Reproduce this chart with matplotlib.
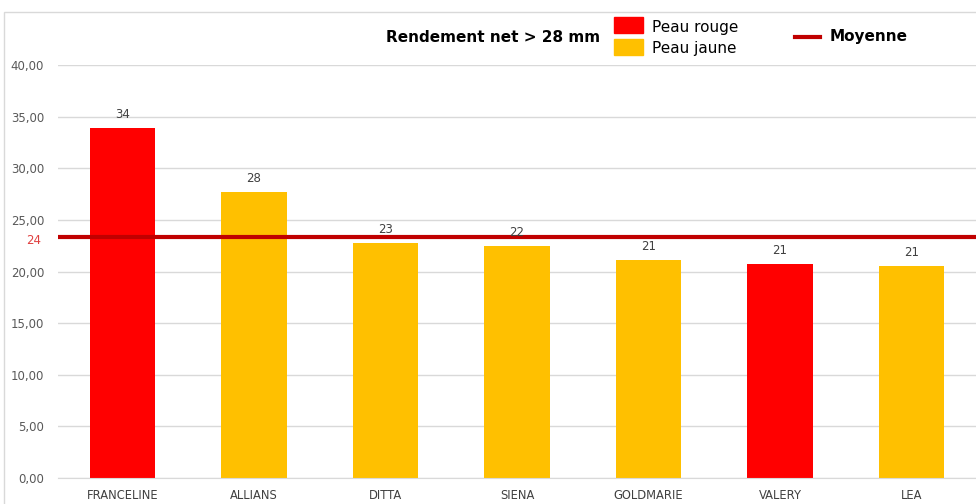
import matplotlib.pyplot as plt
from matplotlib.patches import Rectangle
from matplotlib.lines import Line2D
import numpy as np

# data
varieties = ['FRANCELINE', 'ALLIANS', 'DITTA', 'SIENA', 'GOLDMARIE', 'VALERY', 'LEA']
rendement = [33.9, 27.7, 22.75, 22.45, 21.1, 20.7, 20.55]
peau = ['rouge', 'jaune', 'jaune', 'jaune', 'jaune', 'rouge', 'jaune']
moyenne = 23.3
moyenne_label = '24'
yticks = [0, 5, 10, 15, 20, 25, 30, 35, 40]

colors = {'rouge': '#FF0000', 'jaune': '#FFC000'}
font = 'DejaVu Sans'

fig = plt.figure(figsize=(9.76, 5.04), dpi=100)
ax = fig.add_axes([0.0594, 0.0516, 0.9406, 0.8194])

x = np.arange(len(varieties))
ax.bar(x, rendement, width=0.5, color=[colors[p] for p in peau], zorder=2)
for xi, v in zip(x, rendement):
    ax.text(xi, v + 0.7, '%d' % int(v + 0.5), ha='center', va='bottom',
            fontsize=8.5, color='#404040', family=font, zorder=4)

ax.axhline(moyenne, color='#C00000', linewidth=3, zorder=3)
ax.text(-0.62, moyenne - 0.3, moyenne_label, ha='right', va='center',
        fontsize=8.5, color='#E04040', family=font)

ax.set_xlim(-0.49, 6.49)
ax.set_ylim(0, 40)
ax.set_yticks(yticks)
ax.set_yticklabels(['%d,00' % t for t in yticks], family=font, fontsize=8.5, color='#595959')
ax.set_xticks(x)
ax.set_xticklabels(varieties, family=font, fontsize=8.3, color='#404040')
ax.tick_params(length=0, pad=8)
ax.tick_params(axis='y', pad=10)
ax.grid(axis='y', color='#D9D9D9', linewidth=1, zorder=0)
for s in ['top', 'right', 'left']:
    ax.spines[s].set_visible(False)
ax.spines['bottom'].set_color('#D9D9D9')

# title and legend-like annotations in figure coords
fig.text(0.395, 0.925, 'Rendement net > 28 mm', fontsize=11, fontweight='bold',
         family=font, va='center', color='black')
fig.patches.append(Rectangle((0.629, 0.934), 0.030, 0.032, transform=fig.transFigure,
                             color=colors['rouge'], figure=fig))
fig.patches.append(Rectangle((0.629, 0.890), 0.030, 0.032, transform=fig.transFigure,
                             color=colors['jaune'], figure=fig))
fig.text(0.668, 0.946, 'Peau rouge', fontsize=11, family=font, va='center')
fig.text(0.668, 0.903, 'Peau jaune', fontsize=11, family=font, va='center')
fig.lines.append(Line2D([0.815, 0.840], [0.927, 0.927], transform=fig.transFigure,
                        color='#C00000', linewidth=3, figure=fig))
fig.text(0.850, 0.928, 'Moyenne', fontsize=11, fontweight='bold', family=font, va='center')

# outer chart frame
fig.patches.append(Rectangle((0.004, -0.01), 1.1, 0.987, transform=fig.transFigure,
                             fill=False, edgecolor='#D9D9D9', linewidth=1, figure=fig))

fig.savefig('out.png', dpi=100)
